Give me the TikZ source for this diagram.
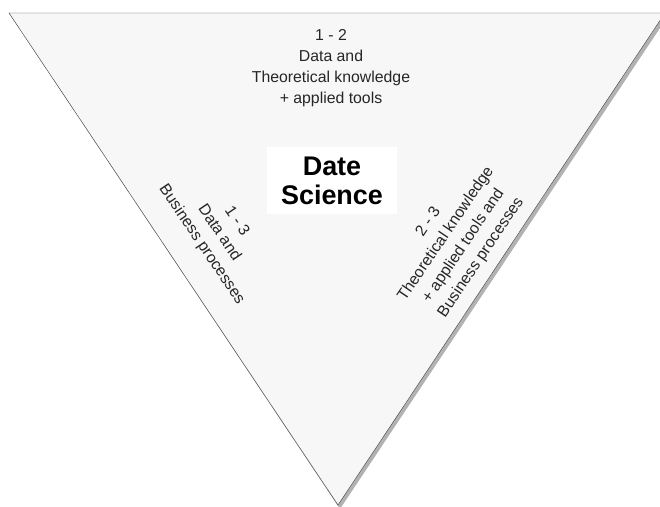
\documentclass[tikz,border=0pt]{standalone}
\usepackage{fontspec}
\setmainfont{Liberation Sans}

\begin{document}
\begin{tikzpicture}[x=0.03cm, y=-0.03cm,
    etiqueta/.style={align=center, font=\fontsize{13.5}{18}\selectfont, text=black!85},
    titulo/.style={align=center, fill=white, font=\fontsize{23}{24.5}\selectfont\bfseries,
        minimum width=130*0.03cm, minimum height=67*0.03cm}]
    \clip (0,0) rectangle (660,507);

    % Triangulo con sombra
    \fill[black!30] (11,16) -- (668,16) -- (340,509) -- cycle;
    \filldraw[fill=black!3, draw=black!70, thin] (9,13) -- (665,13) -- (338,505) -- cycle;

    % Etiqueta superior
    \node[etiqueta] (l12) at (331,68) {1 - 2\\Data and\\Theoretical knowledge\\+ applied tools};

    % Titulo
    \node[titulo] (ds) at (332,181) {Date\\Science};

    % Etiquetas laterales
    \node[etiqueta, rotate=-56] (l13) at (219,233) {1 - 3\\Data and\\Business processes};
    \node[etiqueta, rotate=56] (l23) at (455,240) {2 - 3\\Theoretical knowledge\\+ applied tools and\\Business processes};
\end{tikzpicture}
\end{document}
